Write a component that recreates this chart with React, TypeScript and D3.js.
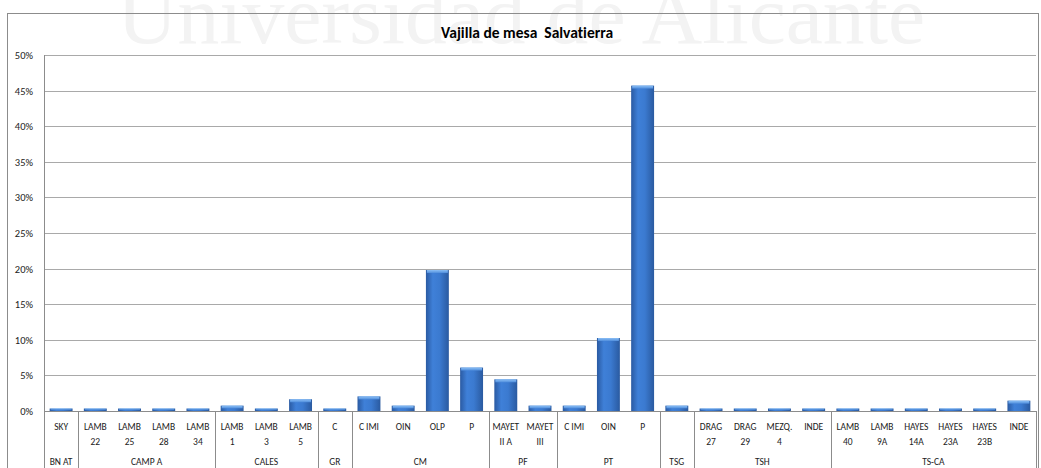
import React from "react";
import * as d3 from "d3";

const categories: string[] = [
  "SKY",
  "LAMB\n22", "LAMB\n25", "LAMB\n28", "LAMB\n34",
  "LAMB\n1", "LAMB\n3", "LAMB\n5",
  "C",
  "C IMI", "OIN", "OLP", "P",
  "MAYET\nII A", "MAYET\nIII",
  "C IMI", "OIN", "P",
  "",
  "DRAG\n27", "DRAG\n29", "MEZQ.\n4", "INDE",
  "LAMB\n40", "LAMB\n9A", "HAYES\n14A", "HAYES\n23A", "HAYES\n23B", "INDE",
];

const values: number[] = [
  0.35,
  0.35, 0.35, 0.35, 0.35,
  0.75, 0.35, 1.65,
  0.35,
  2.05, 0.75, 19.8, 6.1,
  4.45, 0.75,
  0.75, 10.25, 45.7,
  0.75,
  0.35, 0.35, 0.35, 0.35,
  0.35, 0.35, 0.35, 0.35, 0.35, 1.45,
];

const groupNames: string[] = ["BN AT", "CAMP A", "CALES", "GR", "CM", "PF", "PT", "TSG", "TSH", "TS-CA"];
const groupSizes: number[] = [1, 4, 3, 1, 4, 2, 3, 1, 4, 6];

const yTicks: number[] = [0, 5, 10, 15, 20, 25, 30, 35, 40, 45, 50];

const title = "Vajilla de mesa  Salvatierra";
const watermark = "Universidad de Alicante";

const W = 1041;
const H = 468;
const LEFT = 44;
const RIGHT = 1036;
const TOP = 55;
const BOTTOM = 411;
const FONT = "Carlito, Calibri, Lato, 'Open Sans', sans-serif";

export default function App() {
  const x = d3
    .scaleBand<number>()
    .domain(d3.range(categories.length))
    .range([LEFT, RIGHT])
    .paddingInner(0.33)
    .paddingOuter(0.165);
  const y = d3.scaleLinear().domain([0, 50]).range([BOTTOM, TOP]);
  const cw = (RIGHT - LEFT) / categories.length;
  const catLeft = (i: number) => LEFT + i * cw;

  const bounds: number[] = [0];
  groupSizes.forEach((s) => bounds.push(bounds[bounds.length - 1] + s));

  return (
    <svg
      width={W}
      height={H}
      style={{ position: "absolute", left: 0, top: 0, background: "#fff", fontVariantLigatures: "none" }}
      fontFamily={FONT}
    >
      <defs>
        <linearGradient id="barGrad" x1="0" x2="1" y1="0" y2="0">
          <stop offset="0%" stopColor="#2a5aa2" />
          <stop offset="30%" stopColor="#3f80d8" />
          <stop offset="60%" stopColor="#3b7ad0" />
          <stop offset="100%" stopColor="#2a5aa0" />
        </linearGradient>
        <linearGradient id="capGrad" x1="0" x2="0" y1="0" y2="1">
          <stop offset="0%" stopColor="#8cc0f6" />
          <stop offset="100%" stopColor="#4f8ddc" />
        </linearGradient>
      </defs>
      <rect x={0} y={0} width={W} height={H} fill="#fff" />
      <text
        x={117}
        y={43}
        fontFamily="'Liberation Serif', 'DejaVu Serif', serif"
        fontSize={83}
        fill="#f3f3f3"
        textLength={808}
        lengthAdjust="spacingAndGlyphs"
      >
        {watermark}
      </text>
      <rect x={7.5} y={13.5} width={1031} height={H} fill="none" stroke="#8c8c8c" strokeWidth={1} />
      <text
        x={527}
        y={38}
        textAnchor="middle"
        fontSize={15.5}
        fontWeight="bold"
        fill="#000"
        style={{ whiteSpace: "pre", fontVariantLigatures: "none" }}
      >
        {title}
      </text>
      {yTicks.map((t) => (
        <line
          key={"g" + t}
          x1={LEFT}
          x2={RIGHT}
          y1={Math.round(y(t)) + 0.5}
          y2={Math.round(y(t)) + 0.5}
          stroke="#a9a9a9"
          strokeWidth={1}
        />
      ))}
      {yTicks.map((t) => (
        <text key={"yl" + t} x={33} y={y(t) + 4} textAnchor="end" fontSize={10.5} fill="#222">
          {t + "%"}
        </text>
      ))}
      <line x1={LEFT + 0.5} x2={LEFT + 0.5} y1={TOP} y2={BOTTOM} stroke="#8c8c8c" />
      {values.map((v, i) => {
        const bx = x(i) as number;
        const bw = x.bandwidth();
        const by = y(v);
        const bh = BOTTOM - by;
        const capH = Math.min(3, bh * 0.5);
        return (
          <g key={"b" + i}>
            <rect x={bx} y={by} width={bw} height={bh} fill="url(#barGrad)" />
            <rect x={bx + 1} y={by} width={bw - 2} height={capH} fill="url(#capGrad)" />
          </g>
        );
      })}
      <line x1={LEFT} x2={RIGHT} y1={BOTTOM + 0.5} y2={BOTTOM + 0.5} stroke="#8c8c8c" />
      {bounds.map((b, k) => (
        <line
          key={"s" + k}
          x1={Math.round(catLeft(b)) + 0.5}
          x2={Math.round(catLeft(b)) + 0.5}
          y1={BOTTOM}
          y2={H}
          stroke="#8c8c8c"
        />
      ))}
      {categories.map((c, i) => {
        const cx = (x(i) as number) + x.bandwidth() / 2;
        const lines = c.split("\n");
        return (
          <text key={"c" + i} textAnchor="middle" fontSize={9.5} fill="#222">
            {lines.map((l, j) => (
              <tspan key={j} x={cx} y={430 + j * 15}>
                {l}
              </tspan>
            ))}
          </text>
        );
      })}
      {groupNames.map((g, k) => {
        const cx = catLeft(bounds[k]) + (groupSizes[k] * cw) / 2;
        return (
          <text key={"gn" + k} x={cx} y={465} textAnchor="middle" fontSize={9.5} fill="#222">
            {g}
          </text>
        );
      })}
    </svg>
  );
}
